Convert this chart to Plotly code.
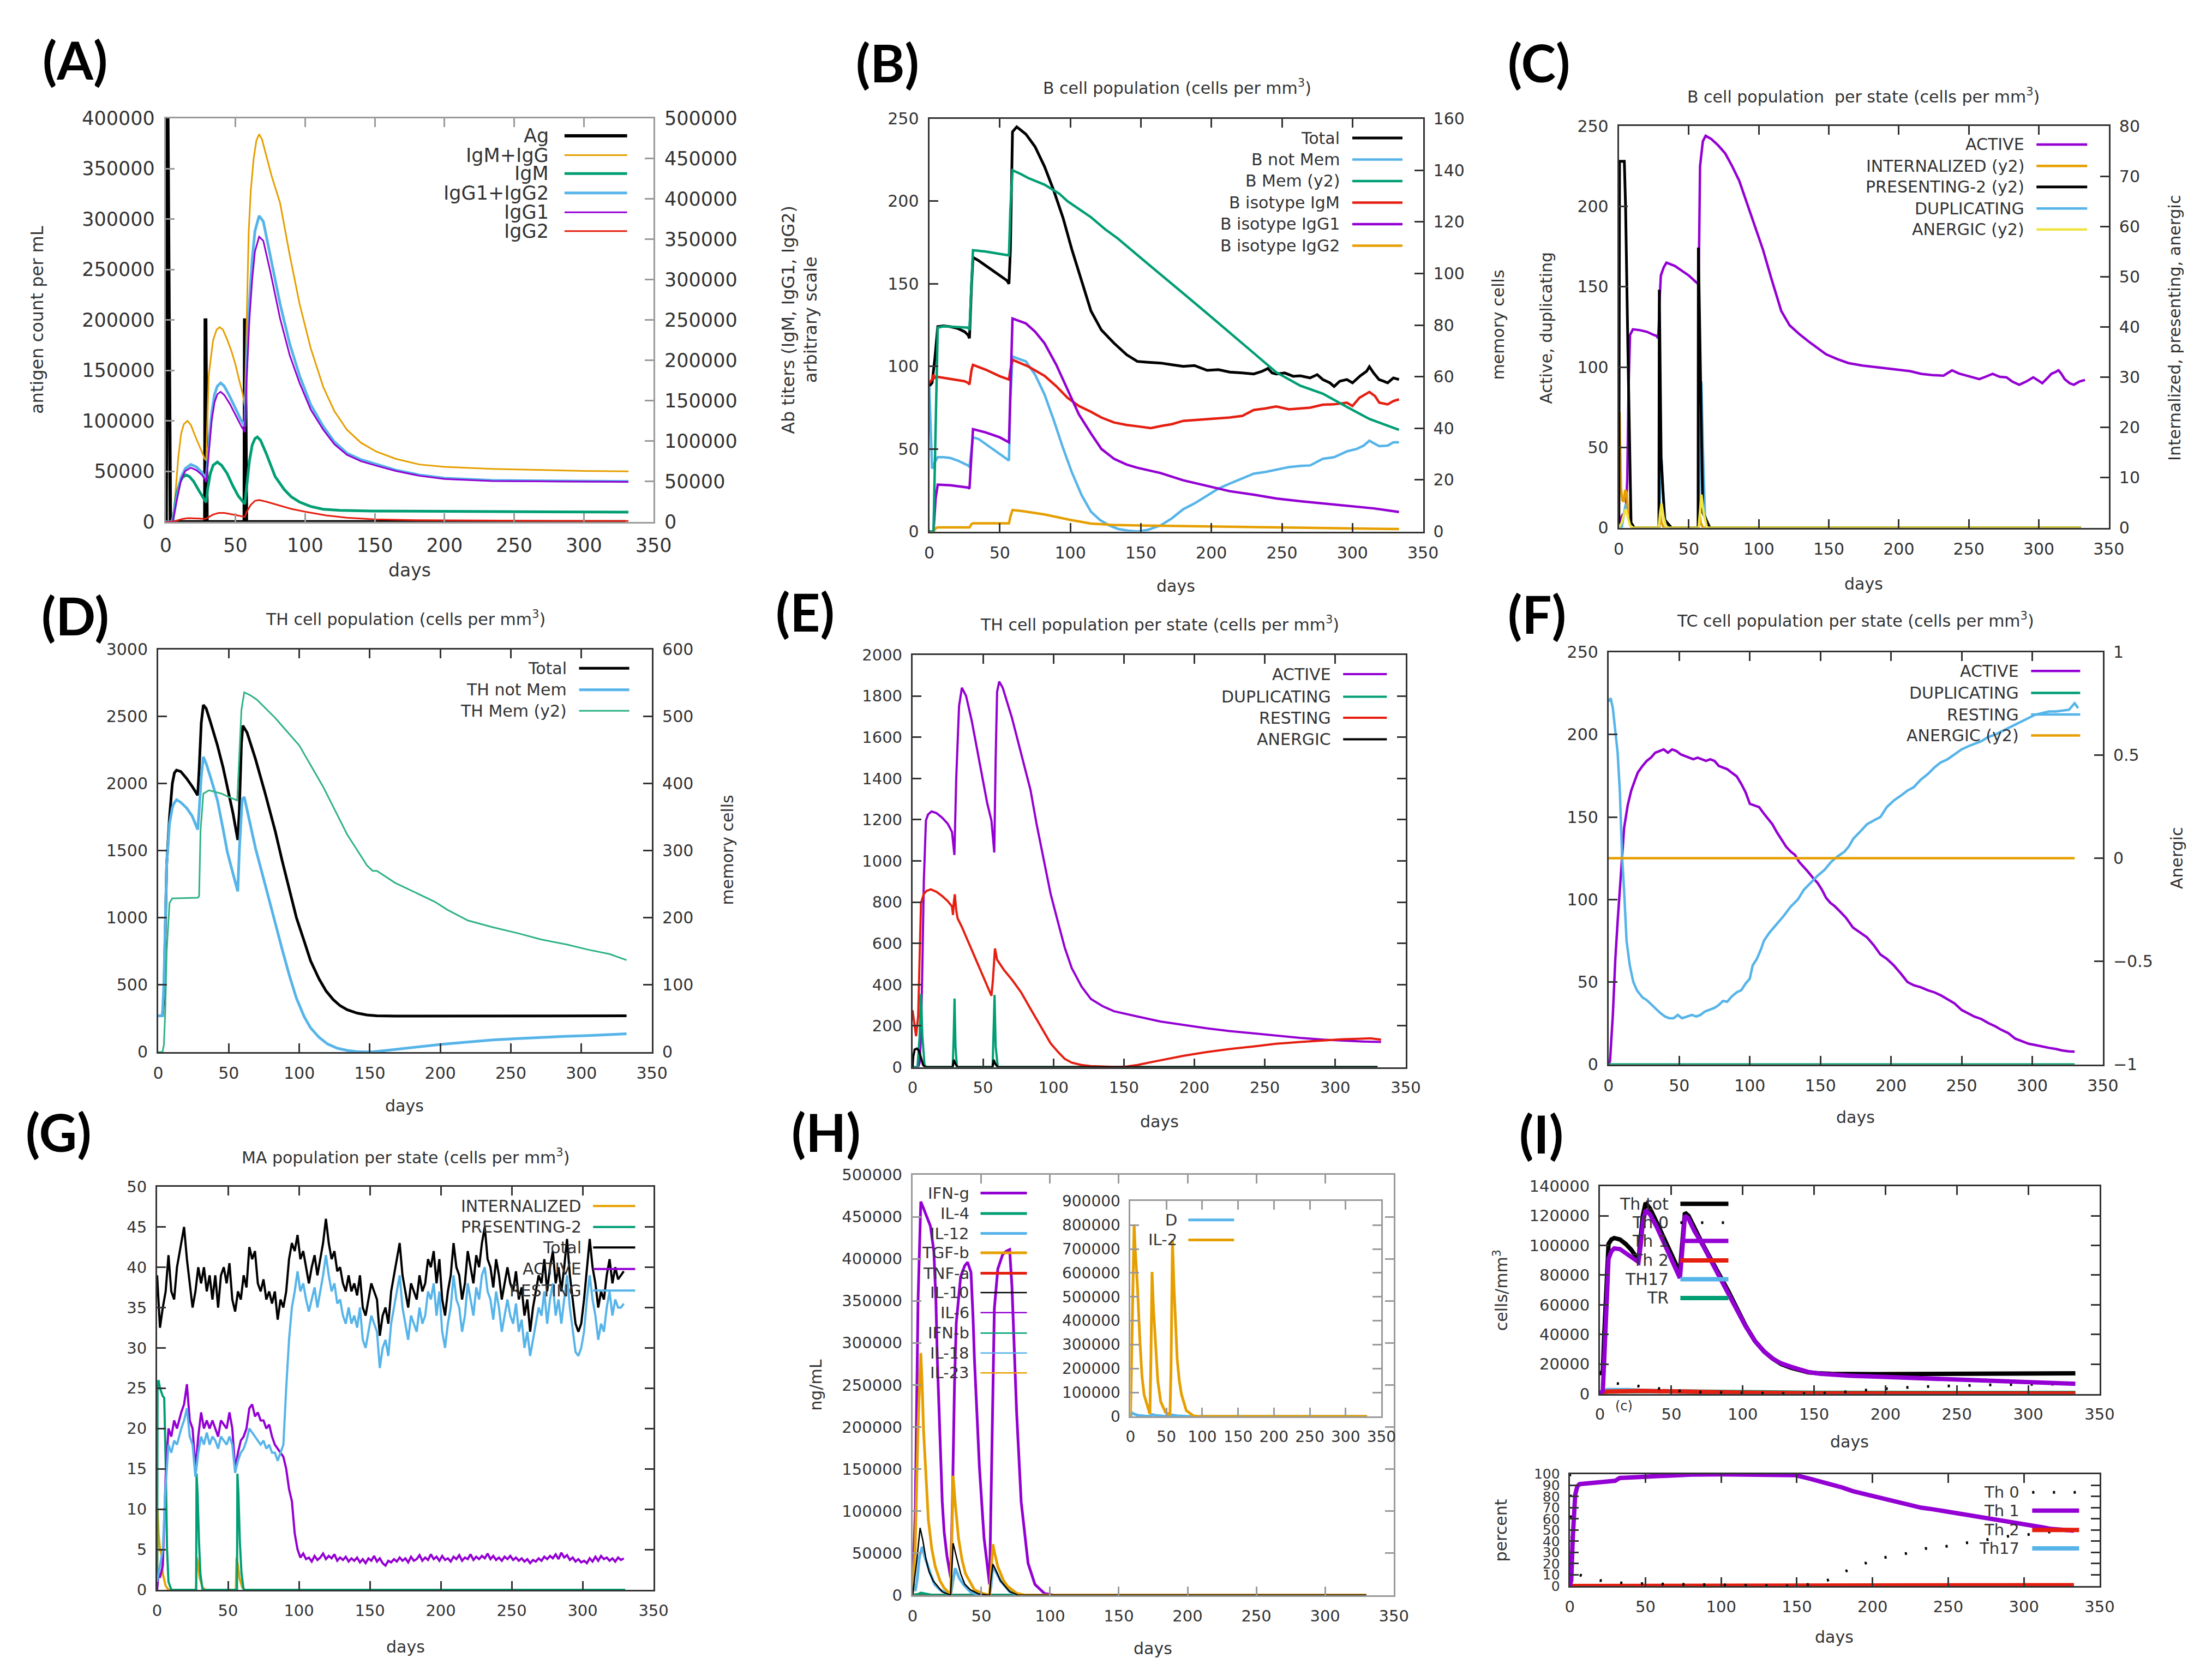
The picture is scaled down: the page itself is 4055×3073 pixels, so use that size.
import plotly.graph_objects as go

W, H = 4055, 3073
FONT = "DejaVu Sans"
TXT = "#333333"
DARK = "#333333"
LIGHT = "#9a9a9a"
PURPLE = "#9400d3"; GREEN = "#009e73"; BLUE = "#56b4e9"; ORANGE = "#e69f00"
YELLOW = "#f0e442"; RED = "#e51e10"; BLACK = "#000000"; MINT = "#2fb383"

# ======================= DATA (day, value) =======================
# ---- (A) antigen / antibodies
A_AG = [(0,0),(0.3,0),(1.2,400000),(1.5,400000),(3.3,0),(28.0,0),(28.3,200000),(28.7,200000),(29.6,0),
        (56.3,0),(56.6,200000),(57.0,200000),(57.9,0),(330,0)]
A_IGMG = [(0,0),(4,0),(6,15000),(7.6,47000),(9,80000),(11,109000),(13,121000),(15.6,125000),(18,120000),
          (21.4,105000),(25,90000),(28,78000),(29,76000),(30.8,181000),(32.5,205000),(34,225000),(36.5,238000),
          (38.7,241000),(41,238000),(44,226000),(47,212000),(50,195000),(52.6,176000),(55,160000),(56.7,143000),
          (58,250000),(59.5,359000),(61,410000),(63,449000),(65,472000),(67,480000),(69,474000),(72,455000),
          (76,428000),(82,395000),(89,330000),(96,270000),(104,215000),(113,167000),(121,137000),(130,114000),
          (140,98000),(151,87000),(165,78000),(182,71000),(200,68000),(234,65600),(270,64000),(300,63000),(332,62500)]
A_IGM = [(0,0),(5,0),(7.6,33000),(10,48000),(12,55000),(14.5,58000),(17,56000),(20,50000),(24,38000),(28,27000),
         (29,24000),(30,40000),(32,60000),(34,70000),(37,74000),(40,70000),(44,60000),(48,45000),(52,32000),
         (56.7,22000),(58,45000),(60,75000),(62,95000),(64,103000),(65.7,105000),(68,101000),(72,85000),
         (78.5,56000),(85,40000),(90,31000),(96,24500),(104,19000),(113,15600),(125,14200),(148,13400),
         (200,13000),(260,12500),(332,12000)]
A_IGG12 = [(0,0),(5,0),(8,30000),(11,55000),(14,66000),(18,71000),(22,68000),(26,61000),(28,56000),(29,52000),
           (31,95000),(33,135000),(35,158000),(37,168000),(39.4,172000),(42,168000),(46,155000),(50,140000),
           (54,126000),(56.7,118000),(58,190000),(60,270000),(62,325000),(64,360000),(67,379000),(70,372000),
           (75,330000),(82,270000),(89,220000),(96,181000),(104,145000),(113,118000),(121,99000),(130,85000),
           (140,77000),(151,71000),(165,64000),(182,58000),(200,54000),(234,51300),(280,50500),(332,50000)]
A_IGG1 = [(0,0),(5,0),(8,28000),(11,52000),(14,63000),(18,67000),(22,64000),(26,58000),(28,53000),(29,49000),
          (31,88000),(33,126000),(35,148000),(37,158000),(39.4,161000),(42,157000),(46,146000),(50,132000),
          (54,119000),(56.7,111000),(58,175000),(60,250000),(62,300000),(64,335000),(67,353000),(70,348000),
          (75,310000),(82,252000),(89,206000),(96,172000),(104,139000),(113,114000),(121,96000),(130,83000),
          (140,75000),(151,69500),(165,63000),(182,57000),(200,53000),(234,50500),(280,49800),(332,49500)]
A_IGG2 = [(0,0),(5,0),(8,1500),(12,3500),(16,4500),(20,4500),(24,4000),(28,3500),(30,5000),(34,9000),(38,11000),
          (42,11000),(46,10000),(50,8500),(54,7000),(56.7,6000),(58,12000),(61,21000),(64,26000),(67,27000),
          (72,25000),(80,21000),(90,16000),(100,12500),(115,8000),(130,5000),(150,3000),(180,2000),(220,1500),
          (280,1200),(332,1000)]
A_NAMES = ["Ag", "IgM+IgG", "IgM", "IgG1+IgG2", "IgG1", "IgG2"]

# ---- (B) B cell population
B_TOTAL = [(0,88),(2,90),(4,105),(6,124),(10,124.5),(15,124),(20,123),(25,121),(27.5,119),(28.5,117),(30,150),
           (31,166),(35,164),(40,161),(45,158),(50,155),(55,152),(56.5,150),(57.5,170),(59,242),(62,245),(65,243),
           (68.5,240.6),(75,233),(81.7,221),(88,207),(94.8,190),(101,171),(108,152),(114.6,133.6),(122,122),
           (131,114),(140,107),(147.5,103),(155,102.5),(164,102),(172,101),(180,100),(188,100.5),(197,97.6),
           (205,98),(213,96.5),(222,96),(230,95.4),(236,97),(240,98.7),(243,96),(246,95.4),(252,96),(258,94),
           (263,94.3),(270,93),(275,95),(279,92),(284,90),(287,87.8),(291,91),(296,92),(300,90),(305.6,94.3),
           (310,97),(312,99.8),(315,96),(318.8,92),(322,91),(325,90),(329,93),(333,92)]
B_NOTMEM = [(0,88),(1,60),(2,38),(4,42),(6,45),(10,45),(15,44.5),(20,43),(25,41),(27.5,40),(28.5,39),(30,52),
            (31,57),(35,56),(40,53),(45,50),(50,47),(55,44),(56.5,43),(57.5,80),(59,106),(62,105),(68.5,103),
            (75,95),(81.7,83),(88,68),(94.8,50.6),(101,36),(108,22),(114.6,12),(121,7),(128,3.5),(134,1.5),
            (141,0.5),(147.5,0),(155,1),(164,3.7),(172,8),(180,13.5),(188,17),(197,22),(205,26),(213,29),(222,32),
            (230,35),(238,36),(246,37.5),(255,39),(263,39.7),(270,40),(279,44),(287,45),(296,48.5),(303,50),
            (308,52),(312,55),(316,53),(319,51.7),(325,52),(329,54),(333,54)]
B_MEM = [(0,0),(3,0),(4.5,40),(6,79),(10,79.5),(20,79.3),(27.5,79),(28.5,78),(30,100),(31,109),(40,108.5),
         (50,107.5),(56.5,107),(57.5,125),(59,140),(65,138.5),(70,137),(81.7,134.4),(92,131),(98,128),(114.6,121.8),
         (125,117),(134,113.4),(150,106),(164,99.7),(180,92.3),(197,84.5),(213,77.1),(230,69.3),(246,61.7),
         (263,56.5),(279,53.4),(296,48.3),(312,43.6),(333,39.4)]
B_IGM = [(0,90),(2,92),(3,95),(4,93),(6,93.6),(15,92.5),(25,91),(27.5,90),(28.5,89),(30,98),(31,100.9),(40,98),
         (50,94),(56.5,92),(57.5,98),(59,104),(65,102),(70,100),(81.7,94.3),(90,88),(98,81),(106,76),(114.6,72.5),
         (122,69),(131,66),(140,64.5),(147.5,63.7),(157,62.6),(165,64),(172,65),(180,67),(188,67.5),(197,68),
         (205,68.5),(213,69),(222,70),(230,73.6),(238,74.5),(246,75.7),(255,74),(263,74.6),(270,75),(279,76.8),
         (287,77),(296,78),(300,76),(305,81),(312,84.5),(316,82),(319,78),(325,77),(329,79),(333,80)]
B_IGG1 = [(0,0),(3,0),(4.5,20),(6,28.4),(15,28),(27.5,26.6),(28.5,26),(30,50),(31,62),(40,60),(50,57),(56.5,54),
          (57.5,90),(59,129),(62,128),(68.5,126),(75,121),(81.7,114),(90,101),(98,85.6),(106,71),(114.6,59.4),
          (122,50),(131,44),(140,40.5),(147.5,38.6),(164,35.4),(180,31),(197,27.7),(213,24.4),(230,22.3),
          (246,20),(263,18.3),(280,17),(296,15.7),(315,14),(333,11.8)]
B_IGG2 = [(0,0),(3,0),(4.5,2),(6,2.5),(27.5,2.5),(28.5,2.5),(30,4.5),(31,5),(56.5,5),(57.5,9),(59,13),(65,12.5),
          (81.7,10.3),(100,7),(114.6,4.8),(130,4),(150,3.6),(200,3),(250,2.4),(300,1.8),(333,1.5)]
B_NAMES = ["Total", "B not Mem", "B Mem (y2)", "B isotype IgM", "B isotype IgG1", "B isotype IgG2"]

# ---- (C) B cell population per state
C_ACTIVE = [(0,0),(1,4),(2,7),(3,8.3),(4,9),(5,10),(6,30),(7,90),(8,120),(10,123.5),(15,123),(20,122),(25,120),
            (27,119.4),(28,118),(28.5,125),(29,140),(30,157),(32,162),(34,165),(40,163),(45,160),(50,157),(55,153),
            (56.5,152),(57,150),(57.5,190),(58,225),(60,240.6),(62,244),(66,242),(71,238),(76,233),(81,225),
            (86,216),(90.5,204.7),(96,191),(103,173),(109,155),(116,135),(122,126),(129,120.5),(135.5,116),
            (142,112),(148,108),(156,105),(164,102.5),(174,101),(183.6,100),(192,99),(200,98),(208,97.5),(216,95.8),
            (224,95),(232,94.7),(238,98),(243,96),(248,94.7),(253,93.5),(257.5,92.5),(262,94),(267,95.8),(272,94),
            (277,93.6),(281,91),(286,89),(291,91),(296,93.6),(299,92),(302.5,90),(306,93),(309,95.8),(312,97),
            (314,98),(316,96),(318.5,92.5),(322,90),(325,89),(329,91),(333,92)]
C_INTERN = [(0,0),(0.5,23),(1.5,8),(2.5,5.5),(3.5,5.2),(4.5,7.5),(5.5,7),(7,2),(9,0),(28.5,0),(29.2,3),(30.5,1),
            (32,0),(56.6,0),(57.3,3.5),(58.5,1),(60,0),(330,0)]
C_PRES = [(0,0),(0.5,73),(3.9,73),(4.8,64),(6.5,35),(8.7,1),(11,0),(28.6,0),(28.9,47.4),(30.2,13.8),(32.7,1.6),
          (37.6,0),(56.6,0),(56.8,55.8),(58.4,28.9),(60,3),(65,0),(330,0)]
C_DUP = [(0,0),(2,0),(3.5,8),(5,15),(6.5,10),(8,2),(10,0),(28.5,0),(29.5,25),(30.5,43),(31.5,25),(33,6),(35,0),
         (57,0),(58,50),(59,91),(60,50),(61.5,8),(64,0),(330,0)]
C_ANERG = [(0,0),(2,1),(3.5,2.5),(5,3.7),(6.5,2),(8,0.5),(10,0),(28.5,0),(29.5,3),(30.5,4.8),(32,2),(34,0),(57,0),
           (58,4),(59,6.6),(60.5,3),(63,0),(330,0)]
C_NAMES = ["ACTIVE", "INTERNALIZED (y2)", "PRESENTING-2 (y2)", "DUPLICATING", "ANERGIC (y2)"]

# ---- (D) TH cell population
D_TOTAL = [(0,270),(3,270),(4,400),(5,900),(6,1400),(8,1750),(10,2000),(11.5,2080),(13,2100),(16,2090),(20,2040),
           (24,1980),(28,1913),(29,2100),(30.5,2450),(32,2586),(34,2560),(37,2460),(42,2284),(46,2120),(49,1977),
           (53,1780),(56.4,1580),(57.5,1800),(59,2300),(60,2432),(63,2380),(69,2182),(76,1920),(83,1644),(88,1420),
           (93,1210),(98,1000),(103.5,826),(108,680),(114,545),(119,455),(124,391),(129,345),(134,315),(141,290),
           (148,276),(155,270),(168,268),(200,268),(250,270),(300,268),(332,270)]
D_NOTMEM = [(0,270),(3,270),(4,500),(5,1000),(6,1400),(8,1700),(10,1820),(11,1849),(13,1880),(16,1860),(20,1820),
            (24,1760),(28,1657),(29,1800),(30.5,2050),(32,2199),(34,2150),(37,2050),(42,1875),(46,1660),(49,1491),
            (53,1330),(56.4,1197),(57.5,1500),(59.5,1880),(61,1900),(65,1700),(69,1517),(76,1240),(83,954),(88,760),
            (93,570),(98,400),(103.5,263),(108,180),(114,110),(120,60),(127,28),(134,12),(141,3),(150,0),(160,10),
            (168,20),(185,40),(202,59),(220,75),(237,90),(255,100),(271,110),(290,118),(305,123),(320,130),(332,136)]
D_MEM = [(0,0),(3,0),(4,10),(5,60),(6,150),(8,222),(10,229),(28,230),(29,232),(30,330),(32,385),(36,390),(45,385),
         (50,380),(56,375),(57,420),(59,510),(61,536),(65,532),(70,525),(83,497.7),(100,456.8),(117,395),(134,324),
         (148,278),(152,270),(155,270),(168,252),(182,238),(196,224),(205,212),(219.6,196),(237,186),(255,177),
         (271,168),(290,160),(305,152.4),(320,146),(332,137)]
D_NAMES = ["Total", "TH not Mem", "TH Mem (y2)"]

# ---- (E) TH cell population per state
E_ACTIVE = [(0,0),(4,0),(5,20),(6,150),(7,500),(8,900),(9.5,1196),(11,1225),(13.5,1240),(17,1232),(21,1210),
            (25,1180),(28,1141),(28.8,1080),(29.7,1029),(31,1400),(33,1750),(35,1840),(38,1800),(42,1680),(46,1530),
            (50,1380),(53,1280),(56,1196),(57,1100),(58,1041),(59,1500),(60,1820),(61.5,1870),(64,1840),(70.5,1695),
            (77,1520),(83.7,1345),(88,1180),(93.6,996),(98,840),(103.5,696),(108,580),(113,480),(120,390),
            (126.6,330),(135,295),(143,271),(149.6,260),(160,245),(176,221),(192,204),(209,188),(225,175),(242,163),
            (258,152),(275,141.5),(292,133),(308,126.6),(320,124),(332.5,121.6)]
E_DUP = [(0,0),(3.5,0),(5,150),(6,355),(7,150),(8.5,10),(10,0),(28.5,0),(29.2,150),(29.8,333),(30.5,100),(31.5,0),
         (56.8,0),(57.5,150),(58.2,350),(59,100),(60.5,0),(330,0)]
E_REST = [(0,276),(1,220),(2.5,150),(4,250),(5,550),(6,796),(8,840),(10,855),(13,862),(17,850),(21,830),(25,805),
          (28,779),(28.7,738),(29.3,800),(30,838),(31,760),(32,721),(35,680),(40,600),(45,520),(50,440),(56,346),
          (57,420),(58.5,575),(60,521),(65,470),(71,420),(77,363),(83,291),(88,231),(93.6,163),(98,115),
          (103.5,71.6),(108,40),(113,21.6),(120,10),(126.6,5),(135,2),(146,0),(152,3),(159.5,10),(170,25),(180,38),
          (192.5,55),(208,72),(225.5,88),(242,100),(258,113),(275,122),(291,130),(305,135),(318,138),(325,140),
          (332.5,133)]
E_ANERG = [(0,0),(0.5,50),(1.5,85),(3,90),(4.5,80),(6,40),(7.5,10),(9,0),(28.5,0),(29.3,35),(30.5,15),(32,0),
           (56.8,0),(57.6,35),(58.8,15),(60.5,0),(330,0)]
E_NAMES = ["ACTIVE", "DUPLICATING", "RESTING", "ANERGIC"]

# ---- (F) TC cell population per state
F_ACTIVE = [(0,0),(1,2),(3,30),(4.8,64.5),(6.5,88),(8,106),(9.5,125),(11,143.5),(13.5,157),(16,166),(18.5,172),
            (20.7,177),(24,181),(27,184),(30,186),(33,189),(36,190),(39,191),(42,189),(45,191),(48,190),(51,188),
            (54,187),(57,186),(60,185),(63,186),(66,185),(69,184),(72,185),(75,184),(78,181),(81,180),(84,179),
            (87,177),(90.7,174.7),(94,170),(97,165),(100,158),(103,157),(106.6,156),(110,152),(113,149),(116,145.6),
            (119,141),(122,137),(125.7,132),(129,129),(132,127),(135,122.7),(138,120),(141,117),(144.8,113),(148,110),
            (151,106),(154,101),(157,98),(160,96),(164,92.6),(168,89),(173,83),(178,80),(183,77),(188,72),(192.5,66.6),
            (197,64),(202,60),(207,55),(211.6,50),(216,48),(221,46.8),(226,45),(230.7,43.7),(235,42),(240,39.5),
            (245,37),(250,33),(255,31),(259,29),(264,27.5),(269,25),(274,23),(278,21),(283,19),(288,15.6),(293,14),
            (297.5,12.5),(302,11.8),(307,10.8),(312,10),(316.6,9.4),(321,8.5),(326,7.9),(330,7.7)]
F_REST = [(0,220),(1.5,222),(3,216),(4.5,205),(6.4,189),(8,165),(9.5,127),(11,105),(12.7,75),(15,60),(17.5,50),
          (20,45),(24,40.6),(27,39),(30,36.4),(33,34),(36.6,31.2),(40,29),(43,28),(46,28),(49,30),(52,28),(55.7,29),
          (59,30),(62,29),(65,30),(68,32),(71,33),(75,34.3),(78,36),(81,38.5),(84,38),(87,41),(90.7,43.7),(94,45),
          (97,49),(100,52),(102,60),(105,64),(108,70),(110,75),(114,80),(119,85),(124,90),(129,95.7),(134,100),
          (138.4,106),(143,110),(148,114.4),(153,118),(157.5,122.7),(162,126),(167,129),(170,132),(173.4,137),
          (178,141),(183,145.6),(188,148),(192.5,150),(197,156),(202,160),(207,163),(211.6,166),(216,168),
          (221,172.6),(226,176),(230.7,180),(235,183),(240,185),(245,188),(250,191),(255,193),(259,194.5),(264,196),
          (269,198.6),(274,200),(278,201.8),(283,204),(288,206),(293,208),(297.5,210),(302,212),(307,213),(312,214),
          (316.6,214),(321,214.5),(326,215),(330,219),(332.5,216)]
F_DUP = [(0,0),(330,0)]
F_ANERG = [(0,0),(330,0)]
F_NAMES = ["ACTIVE", "DUPLICATING", "RESTING", "ANERGIC (y2)"]

# ---- (G) MA population per state (sampled days shared by the three noisy series)
G_DAYS = [0, 1, 2, 4, 6, 8, 10, 12, 14] + list(range(17, 330, 2))
G_TOTAL = [39, 36, 32.5, 35, 37, 41.5, 37, 36, 40,
           43, 45, 41, 38, 35, 37, 40, 38, 40, 37,
           39, 36, 39, 35, 39, 40, 38, 40.5, 36, 34.5,
           37, 36, 39, 37.5, 42.5, 41, 42, 38, 37, 38.5,
           36, 37, 35.5, 37, 33.5, 36, 35, 37, 41, 43,
           42, 44, 41, 42, 40, 38, 40, 41.5, 39, 41,
           43, 46, 43, 41, 42, 39.5, 40, 38, 37, 39,
           37, 38, 36.5, 39, 35, 34, 36, 38, 37, 36,
           31.5, 34, 35, 33, 37, 39, 41, 43, 39, 37,
           35, 38, 37, 36, 39, 37, 38, 41, 40, 42,
           38, 41, 36, 34, 37, 39, 43, 40, 39, 36,
           38, 42, 40, 38, 41.5, 40, 43, 45, 41, 40,
           37.5, 41, 39, 36, 38, 40, 38, 37, 39.5, 36,
           37.5, 34, 36, 32, 35, 37, 39, 38, 41, 37,
           40, 42, 38, 40, 37, 40, 43.5, 39, 36, 33,
           32, 33, 36, 40, 43.5, 40, 38, 35, 37, 36,
           39, 41, 38, 40, 38.5, 39, 39.5]
G_REST = [1, 2, 3, 5, 13, 18, 17, 18.5, 18,
          20, 21, 22.5, 19, 18, 14, 17, 19, 18, 19.5,
          18, 19, 18.5, 17.5, 19, 18.5, 18, 19, 18, 14.5,
          16, 17, 17.5, 18.5, 20, 19.5, 19, 18.5, 18, 18.5,
          17.5, 18, 17, 17, 16, 17, 18, 25, 31, 35,
          37, 39.5, 37, 38, 36, 34.5, 36, 37.5, 35, 37,
          39, 41.5, 39, 37, 38, 35.5, 36, 34, 33, 35,
          33, 34, 32.5, 35, 31, 30, 32, 34, 33, 32,
          27.5, 30, 31, 29, 33, 35, 37, 39, 35, 33,
          31, 34, 33, 32, 35, 33, 34, 37, 36, 38,
          34, 37, 32, 30, 33, 35, 39, 36, 35, 32,
          34, 38, 36, 34, 37.5, 36, 39, 40, 37, 36,
          33.5, 37, 35, 32, 34, 36, 34, 33, 35.5, 32,
          33.5, 30, 32, 29, 31, 33, 35, 34, 37, 33,
          36, 38, 34, 36, 33, 36, 39, 35, 32, 29.5,
          29, 30, 32, 36, 39, 36, 34, 31, 33, 32,
          35, 37, 34, 36, 35, 35, 35.5]
G_ACTIVE = [0, 2, 1.5, 3, 14, 20, 19, 21, 20,
            22, 23, 25.5, 21, 20, 15, 19, 22, 20, 21,
            20, 21, 20, 19, 21, 20.5, 20, 22, 20, 15,
            17, 18.5, 19, 20, 22.5, 23, 21.5, 22, 21, 21,
            20, 20.5, 19, 18, 17.5, 17, 16.5, 15, 12.5, 11,
            7, 5, 4, 4.5, 3.8, 4, 3.5, 4.2, 3.7, 4,
            4.5, 3.8, 4.2, 3.9, 4.4, 3.6, 4, 3.7, 4.1, 3.5,
            3.9, 3.6, 4, 3.4, 3.8, 3.3, 3.9, 3.6, 4.2, 3.5,
            3.9, 3.3, 3, 3.6, 3.4, 3.8, 3.5, 4, 3.6, 3.9,
            3.4, 4.1, 3.6, 3.8, 4.3, 3.6, 4, 3.7, 4.4, 3.8,
            4.1, 3.6, 4.2, 3.7, 3.9, 3.5, 4.1, 3.8, 4.3, 3.6,
            4, 3.8, 4.4, 3.7, 4.1, 3.8, 4.2, 3.9, 4.5, 3.8,
            4.2, 3.7, 4, 3.6, 4.1, 3.8, 4.2, 3.7, 4, 3.6,
            3.9, 3.5, 3.8, 3.3, 3.7, 3.5, 3.9, 3.6, 4.1, 3.8,
            4.2, 3.9, 4.4, 3.8, 4.6, 4, 4.3, 3.7, 4, 3.5,
            3.8, 3.4, 3.6, 3.3, 3.9, 3.5, 4.1, 3.6, 4.2, 3.8,
            4, 3.6, 3.9, 3.5, 4, 3.7, 3.9]
G_INTERN = [(0,0),(0.3,10),(1,7),(2,5),(3,4.5),(4,2),(6,0.5),(8,0),(27.5,0),(28,4),(29,3),(30,1.5),(32,0.3),(34,0),
            (55.5,0),(56,4),(57,3),(58,1.5),(60,0.3),(62,0),(330,0)]
G_PRES = [(0,0),(0.3,25.5),(1,26),(2,25),(3,24.5),(4,24),(5,23.8),(6,16),(7,5),(8,1),(10,0),(27.5,0),(27.8,14.4),
          (28.5,12),(29.5,6),(30.5,2),(32,0),(56.3,0),(56.6,14.4),(57.3,12),(58.3,6),(59.5,2),(61,0),(330,0)]
G_NAMES = ["INTERNALIZED", "PRESENTING-2", "Total", "ACTIVE", "RESTING"]

# ---- (H) cytokines
H_IFNG = [(0,0),(2,100000),(4,350000),(6,468000),(8,460000),(9.8,452000),(13,439000),(15.5,409000),(17,350000),
          (18,281000),(20,180000),(21.6,111000),(23,75000),(25,47000),(27.7,21000),(29,111000),(30.5,250000),
          (31.8,324000),(35,379000),(38,392000),(40,396000),(41.5,390000),(42.5,384000),(44,330000),(45,281000),
          (48.6,153000),(52,68000),(56,12800),(57.4,153000),(59.5,341000),(62,388000),(65.5,405000),(68,409000),
          (70.6,411000),(72.3,367000),(74,300000),(75.7,217000),(79,111000),(84,38000),(89,12800),(96,2000),
          (103,0),(330,0)]
H_IL4 = [(0,0),(4,1000),(6,2500),(9,1500),(14,0),(330,0)]
H_IL12 = [(0,17000),(2,5000),(3.5,20000),(5,45000),(7,57500),(9,45000),(13,25600),(16,13000),(20,6400),(27.7,0),
          (28.5,8000),(31,32000),(34,20000),(37,12800),(42,4000),(47,1000),(56,0),(57,10000),(58.5,35000),
          (61,27000),(64,17000),(70.6,4300),(77,0),(330,0)]
H_TGFB = [(0,0),(2,60000),(4,200000),(6,288000),(7,250000),(8,196000),(11.5,89500),(14,55000),(16.5,34000),
          (20,17000),(23,8500),(27.7,800),(28.5,60000),(29.5,142000),(31,110000),(33.4,68000),(36,42000),
          (38.5,25600),(45,6400),(52,1500),(56,0),(57,25000),(58.4,60500),(60,48000),(62,34000),(66,18000),
          (69,10700),(75.7,2100),(82,0),(330,0)]
H_TNFA = [(0,0),(330,0)]
H_IL10 = [(0,0),(3,40000),(5.5,80000),(7.5,65000),(9.8,42600),(12,28000),(15,17000),(21.6,4000),(27.7,0),
          (28.3,20000),(29.5,61800),(32,45000),(35,25600),(38,13000),(42,6400),(48,1500),(56,0),(56.8,15000),
          (58.4,37000),(61,28000),(64,17000),(70.6,4300),(77,0),(330,0)]
H_IL6 = [(0,0),(330,0)]
H_IFNB = [(0,0),(3,1500),(6,2000),(10,800),(15,0),(330,0)]
H_IL18 = [(0,0),(330,0)]
H_IL23 = [(0,0),(330,0)]
H_NAMES = ["IFN-g", "IL-4", "IL-12", "TGF-b", "TNF-a", "IL-10", "IL-6", "IFN-b", "IL-18", "IL-23"]
H_D = [(0,0),(1,10000),(2,15000),(5,10000),(10,5000),(20,2000),(28,1000),(30,8000),(35,5000),(45,2000),(56,1000),
       (58,6000),(65,3000),(80,500),(100,0),(330,0)]
H_IL2 = [(0,0),(2,300000),(4,700000),(5,803000),(6.5,700000),(9.7,541000),(13,320000),(16,167000),(19,90000),
         (22.7,48000),(27,10000),(28.5,250000),(30,604000),(32,450000),(35.6,242000),(38,150000),(42,63000),
         (48.6,18000),(55,6000),(56.5,200000),(58.5,738000),(60.5,550000),(65,242000),(68,150000),(71,93000),
         (77.8,25000),(87.5,3000),(95,0),(330,0)]
H_INSET_NAMES = ["D", "IL-2"]

# ---- (I) Th subsets
I_THTOT = [(0,14000),(2,14000),(3,40000),(4.5,80000),(6,101000),(8,104000),(10,105000),(14,104000),(18,101000),
           (22,97000),(25,93000),(27,90000),(28.5,105000),(30,120000),(32,128700),(35,125000),(40,115000),
           (45,104000),(50,94000),(54,85000),(56,81600),(57.5,100000),(59.5,122000),(62,120000),(66,112000),
           (70.8,103000),(77,92000),(83,81600),(90,69000),(96,57500),(102,46000),(108.5,35700),(115,28500),
           (121,23700),(127,20000),(133.6,17600),(140,15700),(146,14500),(154,13800),(162,13500),(193,13300),
           (240,13300),(280,13500),(333,13800)]
I_TH0 = [(0,14000),(2,13000),(4,10000),(7,8000),(10,7200),(20,6000),(30,5000),(40,3500),(55,2000),(70,1200),
         (100,500),(130,200),(150,100),(165,800),(180,2000),(200,3500),(225,4800),(250,5600),(275,6100),
         (300,6400),(333,6600)]
I_TH1 = [(0,0),(2,2000),(3,23700),(4.5,65000),(6,91000),(8,96000),(10,98000),(14,97500),(18,95000),(22,92000),
         (25,90000),(27,88800),(28.5,100000),(30,115000),(32,123800),(35,121000),(40,112000),(45,101000),
         (50,91000),(54,82000),(56,78000),(57.5,95000),(59.5,120000),(62,118000),(66,110000),(71,102000),
         (77,91000),(83,80400),(90,68000),(96,56000),(102,45500),(108.5,35700),(115,28500),(121,23700),
         (127,20500),(133.6,18300),(140,16200),(146,14700),(154,13600),(162,12800),(175,12200),(193,11600),
         (210,11000),(225,10400),(240,9800),(256,9200),(272,8600),(288,8000),(310,7400),(333,6800)]
I_TH2 = [(0,0),(5,1500),(30,2000),(60,1800),(100,800),(150,300),(200,200),(333,200)]
I_TH17 = [(0,0),(5,2500),(20,2500),(30,2000),(60,1500),(100,500),(150,200),(333,100)]
I_TR = [(0,1000),(5,1500),(30,1800),(60,1500),(100,1000),(150,700),(333,600)]
I_NAMES = ["Th tot", "Th 0", "Th 1", "Th 2", "TH17", "TR"]
IP_TH0 = [(0,100),(1,60),(2,20),(4,12),(6.5,10),(10,8),(20,5),(30,3),(50,2),(100,1),(150,0),(158,1.5),(170,5),
          (181.5,12.8),(193,19),(202,24),(214,27),(226,30),(235,33.5),(247,35),(259,38),(270,40),(282,43),
          (291,44.7),(303,46),(313.5,48),(324,49.5),(333,51)]
IP_TH1 = [(0,0),(1,5),(2,43),(3.6,81.5),(5,89),(6.5,91),(10,91.5),(15.4,92),(25,93),(30,94),(33,96.5),(40,97),
          (48,97.5),(60,99),(80,99.5),(100,99.7),(128,99.7),(149,99),(158,96),(165,93.5),(172.6,91),(180,88),
          (187,84.7),(195,82),(202,80),(210,77.5),(217,75),(225,72.5),(232,70),(240,68.5),(247,67),(255,65.5),
          (262,64),(270,62),(276,60.7),(284,59),(291,57.5),(298,56),(306,54.3),(312,52.5),(318,51),(325,50.3),
          (333,49.5)]
IP_TH2 = [(0,0),(333,0.8)]
IP_TH17 = [(0,0),(333,0)]
IP_NAMES = ["Th 0", "Th 1", "Th 2", "Th17"]

# ======================= BUILD =======================
layout = dict(width=W, height=H, margin=dict(l=0, r=0, t=0, b=0), paper_bgcolor="white",
              plot_bgcolor="rgba(0,0,0,0)", showlegend=False)
annotations, shapes, data = [], [], []
cnt = {"x": 0, "y": 0}


def base_axis(fs, frame):
    return dict(showline=True, linecolor=frame, linewidth=3, ticks="inside", ticklen=16, tickwidth=2.5,
                tickcolor=frame, showgrid=False, zeroline=False, fixedrange=True, ticklabelstandoff=10,
                tickfont=dict(family=FONT, size=fs, color=TXT))


def make_panel(L, R, T, B, yr, ydt, y2r=None, y2dt=None, fs=30, yfs=None, frame=DARK):
    cnt["x"] += 1; cnt["y"] += 1
    xi, yi = cnt["x"], cnt["y"]
    xname = "xaxis" if xi == 1 else f"xaxis{xi}"
    yname = "yaxis" if yi == 1 else f"yaxis{yi}"
    xid = "x" if xi == 1 else f"x{xi}"
    yid = "y" if yi == 1 else f"y{yi}"
    ydom = [1 - B / H, 1 - T / H]
    xa = base_axis(fs, frame)
    xa.update(domain=[L / W, R / W], anchor=yid, range=[0, 350], dtick=50, tick0=0, mirror="ticks", tickformat="d")
    ya = base_axis(yfs or fs, frame)
    ya.update(domain=ydom, anchor=xid, range=yr, dtick=ydt, tick0=0,
              mirror=("ticks" if y2r is None else True))
    if ydt >= 1:
        ya["tickformat"] = "d"
    layout[xname] = xa
    layout[yname] = ya
    y2id = None
    if y2r is not None:
        cnt["y"] += 1
        y2i = cnt["y"]
        y2id = f"y{y2i}"
        y2a = base_axis(fs, frame)
        y2a.update(domain=ydom, overlaying=yid, side="right", anchor=xid, range=y2r, dtick=y2dt, tick0=0)
        if y2dt >= 1:
            y2a["tickformat"] = "d"
        layout[f"yaxis{y2i}"] = y2a
    return xid, yid, y2id


def line(pts, xid, yid, color, width, dash="solid"):
    xs = [p[0] for p in pts]
    ys = [p[1] for p in pts]
    data.append(go.Scatter(x=xs, y=ys, xaxis=xid, yaxis=yid, mode="lines",
                           line=dict(color=color, width=width, dash=dash), hoverinfo="skip", showlegend=False))


def text(s, x, y, fs=30, angle=0, color=TXT, family=FONT, xanchor="center"):
    annotations.append(dict(xref="paper", yref="paper", x=x / W, y=1 - y / H, text=s, showarrow=False,
                            xanchor=xanchor, yanchor="middle", textangle=angle,
                            font=dict(family=family, size=fs, color=color)))


def legend(names, styles, text_right, lx0, lx1, ys, fs=30):
    for name, st, y in zip(names, styles, ys):
        color, width = st[0], st[1]
        dash = st[2] if len(st) > 2 else "solid"
        text(name, text_right, y, fs=fs, xanchor="right")
        shapes.append(dict(type="line", xref="paper", yref="paper", x0=lx0 / W, x1=lx1 / W, y0=1 - y / H,
                           y1=1 - y / H, line=dict(color=color, width=width, dash=dash)))


def panel_label(s, x, y):
    text(f"<b>{s}</b>", x, y, fs=96, color="#000000", family="Lato")


# ---------- (A)
xa, ya, ya2 = make_panel(288, 1192, 191, 941, [0, 400000], 50000, [0, 500000], 50000, fs=35, frame=LIGHT)
A_ST = [(BLACK, 6), (ORANGE, 3), (GREEN, 5), (BLUE, 5), (PURPLE, 3), (RED, 3)]
line(A_AG, xa, ya, *A_ST[0])
for pts, st in zip([A_IGMG, A_IGM, A_IGG12, A_IGG1, A_IGG2], A_ST[1:]):
    line(pts, xa, ya2, *st)
legend(A_NAMES, A_ST, 1000, 1027, 1143, [224, 260, 294, 330, 366, 401], fs=35)
text("antigen count per mL", 49, 566, fs=32, angle=-90)
text("Ab titers (IgM, IgG1, IgG2)<br>arbitrary scale", 1462, 566, fs=32, angle=-90)
text("days", 740, 1031, fs=33)
panel_label("(A)", 120, 82)

# ---------- (B)
xb, yb, yb2 = make_panel(1703, 2618, 192, 959, [0, 250], 50, [0, 160], 20)
B_ST = [(BLACK, 5), (BLUE, 4.5), (GREEN, 4.5), (RED, 4.5), (PURPLE, 4.5), (ORANGE, 4.5)]
line(B_TOTAL, xb, yb, *B_ST[0])
line(B_NOTMEM, xb, yb, *B_ST[1])
line(B_IGM, xb, yb, *B_ST[3])
line(B_IGG1, xb, yb, *B_ST[4])
line(B_IGG2, xb, yb, *B_ST[5])
line(B_MEM, xb, yb2, *B_ST[2])
legend(B_NAMES, B_ST, 2466, 2487, 2580, [228, 268, 308, 348, 388, 428])
text("B cell population (cells per mm<sup>3</sup>)", 2162, 133)
text("memory cells", 2757, 575, angle=-90)
text("days", 2160, 1060)
panel_label("(B)", 1626, 87)

# ---------- (C)
xc, yc, yc2 = make_panel(2981, 3889, 206, 952, [0, 250], 50, [0, 80], 10)
C_ST = [(PURPLE, 4.5), (ORANGE, 4.5), (BLACK, 5), (BLUE, 4.5), (YELLOW, 4.5)]
line(C_ACTIVE, xc, yc, *C_ST[0])
line(C_DUP, xc, yc, *C_ST[3])
line(C_INTERN, xc, yc2, *C_ST[1])
line(C_PRES, xc, yc2, *C_ST[2])
line(C_ANERG, xc, yc2, *C_ST[4])
legend(C_NAMES, C_ST, 3735, 3755, 3849, [240, 280, 319, 359, 398])
text("B cell population\u00a0 per state (cells per mm<sup>3</sup>)", 3434, 149)
text("Active, duplicating", 2846, 581, angle=-90)
text("Internalized, presenting, anergic", 4011, 581, angle=-90)
text("days", 3435, 1056)
panel_label("(C)", 2833, 87)

# ---------- (D)
xd, yd, yd2 = make_panel(274, 1189, 1178, 1926, [0, 3000], 500, [0, 600], 100)
D_ST = [(BLACK, 5), (BLUE, 5), (MINT, 3)]
line(D_TOTAL, xd, yd, *D_ST[0])
line(D_NOTMEM, xd, yd, *D_ST[1])
line(D_MEM, xd, yd2, *D_ST[2])
legend(D_NAMES, D_ST, 1033, 1054, 1147, [1213, 1253, 1292])
text("TH cell population (cells per mm<sup>3</sup>)", 732, 1120)
text("memory cells", 1329, 1551, angle=-90)
text("days", 730, 2026)
panel_label("(D)", 120, 1114)

# ---------- (E)
xe, ye, _ = make_panel(1672, 2586, 1188, 1954, [0, 2000], 200, fs=29)
E_ST = [(PURPLE, 4), (GREEN, 4), (RED, 4), (BLACK, 4)]
for pts, st in zip([E_ACTIVE, E_DUP, E_REST, E_ANERG], E_ST):
    line(pts, xe, ye, *st)
legend(E_NAMES, E_ST, 2450, 2470, 2551, [1224, 1266, 1305, 1345])
text("TH cell population per state (cells per mm<sup>3</sup>)", 2130, 1130)
text("days", 2130, 2055)
panel_label("(E)", 1473, 1107)

# ---------- (F)
xf, yf, yf2 = make_panel(2962, 3878, 1183, 1949, [0, 250], 50, [-1, 1], 0.5)
F_ST = [(PURPLE, 4.5), (GREEN, 4.5), (BLUE, 4.5), (ORANGE, 4.5)]
line(F_ACTIVE, xf, yf, *F_ST[0])
line(F_DUP, xf, yf, *F_ST[1])
line(F_REST, xf, yf, *F_ST[2])
line(F_ANERG, xf, yf2, *F_ST[3])
legend(F_NAMES, F_ST, 3724, 3745, 3836, [1218, 1259, 1299, 1338])
text("TC cell population per state (cells per mm<sup>3</sup>)", 3420, 1123)
text("Anergic", 4015, 1565, angle=-90)
text("days", 3420, 2047)
panel_label("(F)", 2829, 1111)

# ---------- (G)
xg, yg, _ = make_panel(272, 1192, 2176, 2925, [0, 50], 5, fs=29)
G_ST = [(ORANGE, 4), (GREEN, 4), (BLACK, 4), (PURPLE, 4), (BLUE, 4)]
line(G_INTERN, xg, yg, *G_ST[0])
line(G_PRES, xg, yg, *G_ST[1])
line(list(zip(G_DAYS, G_TOTAL)), xg, yg, *G_ST[2])
line(list(zip(G_DAYS, G_ACTIVE)), xg, yg, *G_ST[3])
line(list(zip(G_DAYS, G_REST)), xg, yg, *G_ST[4])
legend(G_NAMES, G_ST, 1061, 1080, 1158, [2212, 2251, 2289, 2329, 2369])
text("MA population per state (cells per mm<sup>3</sup>)", 732, 2120)
text("days", 732, 3031)
panel_label("(G)", 89, 2073)

# ---------- (H)
xh, yh, _ = make_panel(1672, 2564, 2154, 2935, [0, 500000], 50000, fs=29, frame=LIGHT)
H_ST = [(PURPLE, 5), (GREEN, 5), (BLUE, 5), (ORANGE, 5), (RED, 5),
        (BLACK, 2.5), (PURPLE, 2.5), (GREEN, 2.5), (BLUE, 2.5), (ORANGE, 2.5)]
for pts, st in zip([H_IL6, H_IFNB, H_IL18, H_IL23, H_TNFA, H_IL4, H_IFNG, H_IL12, H_TGFB, H_IL10],
                   [H_ST[6], H_ST[7], H_ST[8], H_ST[9], H_ST[4], H_ST[1], H_ST[0], H_ST[2], H_ST[3], H_ST[5]]):
    line(pts, xh, yh, *st)
legend(H_NAMES, H_ST, 1779, 1798, 1884, [2188, 2226, 2263, 2299, 2337, 2373, 2410, 2448, 2485, 2522], fs=29)
text("ng/mL", 1493, 2545, angle=-90)
text("days", 2117, 3034)
panel_label("(H)", 1512, 2073)
xi_, yi_, _ = make_panel(2076, 2541, 2203, 2603, [0, 900000], 100000, fs=28, frame=LIGHT)
HI_ST = [(BLUE, 5), (ORANGE, 5)]
line(H_D, xi_, yi_, *HI_ST[0])
line(H_IL2, xi_, yi_, *HI_ST[1])
legend(H_INSET_NAMES, HI_ST, 2164, 2183, 2268, [2238, 2275], fs=29)

# ---------- (I) top
xt, yt, _ = make_panel(2946, 3872, 2175, 2561, [0, 140000], 20000, fs=29)
I_ST = [(BLACK, 8), (BLACK, 5, "4px,34px"), (PURPLE, 8), (RED, 8), (BLUE, 8), (GREEN, 8)]
line(I_TR, xt, yt, *I_ST[5])
line(I_TH17, xt, yt, *I_ST[4])
line(I_TH2, xt, yt, *I_ST[3])
line(I_TH0, xt, yt, *I_ST[1])
line(I_THTOT, xt, yt, *I_ST[0])
line(I_TH1, xt, yt, *I_ST[2])
legend(I_NAMES, I_ST, 3075, 3095, 3184, [2208, 2243, 2277, 2313, 2348, 2383], fs=30)
text("cells/mm<sup>3</sup>", 2762, 2369, angle=-90)
text("days", 3408, 2650)
text("(c)", 2990, 2584, fs=24)
panel_label("(I)", 2837, 2077)

# ---------- (I) bottom
xp, yp, _ = make_panel(2890, 3872, 2710, 2918, [0, 100], 10, fs=29, yfs=25)
IP_ST = [(BLACK, 5, "4px,34px"), (PURPLE, 8), (RED, 8), (BLUE, 8)]
line(IP_TH17, xp, yp, *IP_ST[3])
line(IP_TH2, xp, yp, *IP_ST[2])
line(IP_TH0, xp, yp, *IP_ST[0])
line(IP_TH1, xp, yp, *IP_ST[1])
legend(IP_NAMES, IP_ST, 3725, 3747, 3834, [2744, 2778, 2814, 2848], fs=29)
text("percent", 2762, 2815, angle=-90)
text("days", 3380, 3013)

layout["annotations"] = annotations
layout["shapes"] = shapes
fig = go.Figure(data=data, layout=layout)
fig.write_html("out.html")
